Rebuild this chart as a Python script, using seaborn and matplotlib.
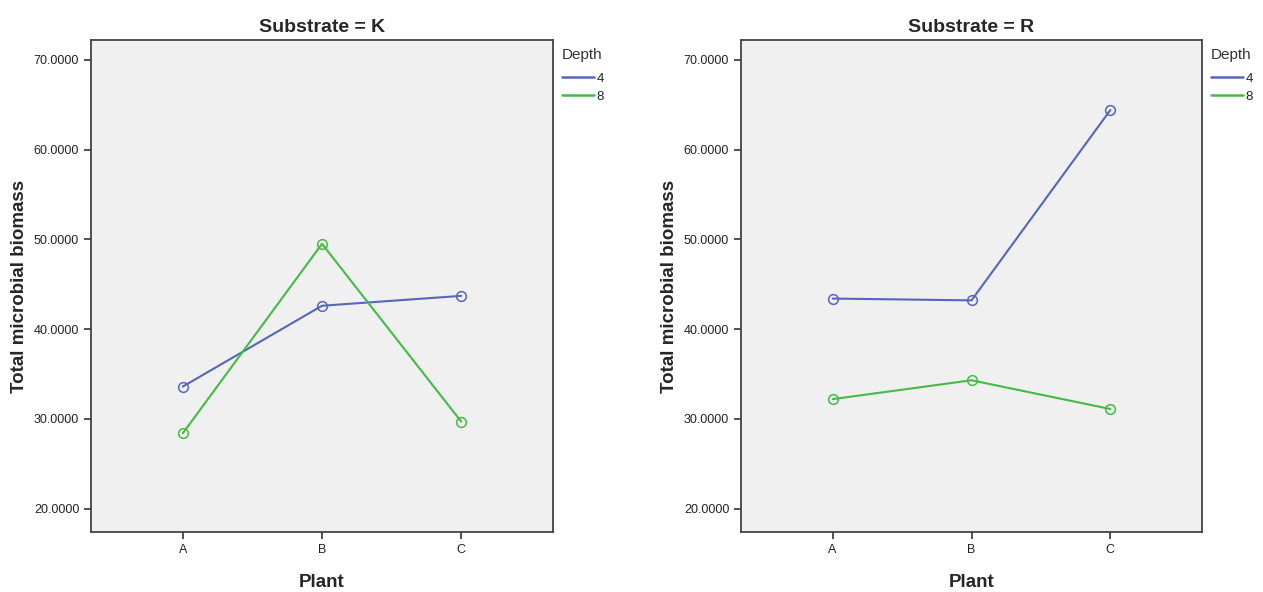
import numpy as np
import pandas as pd
import matplotlib
matplotlib.use("Agg")
import matplotlib.pyplot as plt
import matplotlib.ticker as ticker
from matplotlib.lines import Line2D
import seaborn as sns

# ── Data ─────────────────────────────────────────────────────────────────────
plants = ["A", "B", "C"]
depths = ["4", "8"]
substrates = ["K", "R"]

k_depth4 = [33.6, 42.6, 43.7]
k_depth8 = [28.4, 49.5, 29.7]
r_depth4 = [43.4, 43.2, 64.4]
r_depth8 = [32.2, 34.3, 31.1]

PALETTE = {"4": "#5566BB", "8": "#44BB44"}

rows = []
for sub, d4, d8 in [("K", k_depth4, k_depth8), ("R", r_depth4, r_depth8)]:
    for depth, vals in [("4", d4), ("8", d8)]:
        for p, v in zip(plants, vals):
            rows.append({"Substrate": sub, "Depth": depth, "Plant": p, "Biomass": v})
df = pd.DataFrame(rows)

sns.set_style("white")
plt.rcParams["font.family"] = ["Liberation Sans", "DejaVu Sans"]

fig = plt.figure(figsize=(12.63, 5.92), dpi=100)
W, H = 1263, 592
boxes = {"K": (91, 40, 553, 532), "R": (741, 40, 1202, 532)}

for sub in substrates:
    x0, y0, x1, y1 = boxes[sub]
    ax = fig.add_axes([x0 / W, (H - y1) / H, (x1 - x0) / W, (y1 - y0) / H])
    ax.set_facecolor("#F0F0F0")
    sub_df = df[df["Substrate"] == sub].copy()
    sub_df["x"] = sub_df["Plant"].map({p: i for i, p in enumerate(plants)})
    sns.lineplot(data=sub_df, x="x", y="Biomass", hue="Depth", hue_order=depths,
                 palette=PALETTE, marker="o", markersize=7, markerfacecolor="none",
                 markeredgewidth=1.1, linewidth=1.5, legend=False, ax=ax)
    for line in ax.lines:
        line.set_markeredgecolor(line.get_color())

    ax.set_xlim(-0.66, 2.66)
    ax.set_ylim(17.4, 72.2)
    ax.set_xticks(range(len(plants)))
    ax.set_xticklabels(plants)
    ax.yaxis.set_major_locator(ticker.MultipleLocator(10))
    ax.yaxis.set_major_formatter(ticker.FormatStrFormatter("%.4f"))
    ax.tick_params(axis="both", direction="out", length=5, width=1.2,
                   colors="#333333", labelsize=9, labelcolor="#222222",
                   left=True, bottom=True)
    for sp in ax.spines.values():
        sp.set_color("#444444")
        sp.set_linewidth(1.3)

    ax.set_xlabel("Plant", fontsize=13.5, fontweight="bold", labelpad=13)
    ax.set_ylabel("Total microbial biomass", fontsize=13.5, fontweight="bold", labelpad=4)
    ax.set_title(f"Substrate = {sub}", fontsize=14, fontweight="bold", pad=6)

    # legend: title as separate text so the gap to the entries matches
    ax.text(1.018, 0.984, "Depth", transform=ax.transAxes, fontsize=11,
            color="#333333", ha="left", va="top")
    handles = [Line2D([0], [0], color=PALETTE[d], linewidth=1.8) for d in depths]
    ax.legend(handles, depths, loc="upper left", bbox_to_anchor=(1.0, 0.953),
              frameon=False, fontsize=9.5, handlelength=2.4, handletextpad=0.2,
              labelspacing=0.45, borderaxespad=0.3)

fig.savefig("out.png", dpi=100)
